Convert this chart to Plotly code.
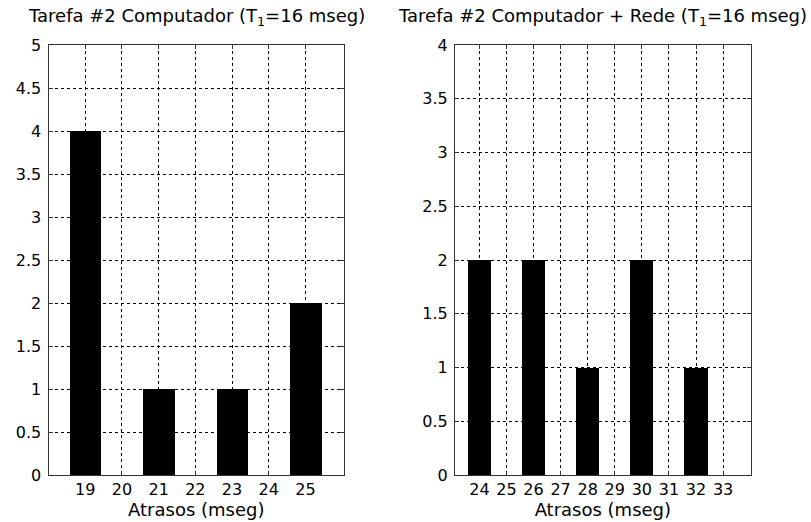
import plotly.graph_objects as go

# Data
left_x = [19, 20, 21, 22, 23, 24, 25]
left_y = [4, 0, 1, 0, 1, 0, 2]
right_x = [24, 25, 26, 27, 28, 29, 30, 31, 32, 33]
right_y = [2, 0, 2, 0, 1, 0, 2, 0, 1, 0]
left_title = "Tarefa #2 Computador (T<sub>1</sub>=16 mseg)"
right_title = "Tarefa #2 Computador + Rede (T<sub>1</sub>=16 mseg)"
xlabel = "Atrasos (mseg)"
left_yticks = [0, 0.5, 1, 1.5, 2, 2.5, 3, 3.5, 4, 4.5, 5]
right_yticks = [0, 0.5, 1, 1.5, 2, 2.5, 3, 3.5, 4]

W, H = 811, 522
FONT = "DejaVu Sans, Arial, sans-serif"
FS = 16
TFS = 18

fig = go.Figure()
fig.add_trace(go.Bar(x=left_x, y=left_y, width=0.86, marker=dict(color="black", line=dict(width=0)),
                     xaxis="x", yaxis="y", showlegend=False))
fig.add_trace(go.Bar(x=right_x, y=right_y, width=0.86, marker=dict(color="black", line=dict(width=0)),
                     xaxis="x2", yaxis="y2", showlegend=False))

ytop = 1 - 45 / H
ybot = 1 - 475 / H

axcommon = dict(showline=True, linecolor="#333", linewidth=1, mirror="ticks",
                ticks="inside", ticklen=4, tickcolor="#333",
                showgrid=True, gridcolor="black", gridwidth=1, griddash="3px,3px",
                zeroline=False, tickfont=dict(family=FONT, size=FS, color="black"),
                layer="below traces", automargin=False)

fig.update_layout(
    width=W, height=H,
    margin=dict(l=0, r=0, t=0, b=0),
    paper_bgcolor="white", plot_bgcolor="white",
    bargap=0,
    font=dict(family=FONT, size=FS, color="black"),
    xaxis=dict(domain=[48.5 / W, 344 / W], range=[18, 26.05], tickvals=left_x,
               title=dict(text=xlabel, font=dict(family=FONT, size=TFS), standoff=0),
               anchor="y", **axcommon),
    yaxis=dict(domain=[ybot, ytop], range=[0, 5], tickvals=left_yticks,
               ticktext=[f"{v:g}" for v in left_yticks], anchor="x",
               ticklabelstandoff=3, **axcommon),
    xaxis2=dict(domain=[455 / W, 750.7 / W], range=[23.1, 34.02], tickvals=right_x,
                title=dict(text=xlabel, font=dict(family=FONT, size=TFS), standoff=0),
                anchor="y2", **axcommon),
    yaxis2=dict(domain=[ybot, ytop], range=[0, 4], tickvals=right_yticks,
                ticktext=[f"{v:g}" for v in right_yticks], anchor="x2",
                ticklabelstandoff=3, **axcommon),
    annotations=[
        dict(text=left_title, x=(48.5 + 344) / 2 / W, y=1 - 17 / H, xref="paper", yref="paper",
             showarrow=False, font=dict(family=FONT, size=TFS), xanchor="center", yanchor="middle"),
        dict(text=right_title, x=(455 + 750.7) / 2 / W, y=1 - 17 / H, xref="paper", yref="paper",
             showarrow=False, font=dict(family=FONT, size=TFS), xanchor="center", yanchor="middle"),
    ],
)

fig.write_html("out.html", config={"displayModeBar": False},
               post_script="document.body.style.margin='0';")
